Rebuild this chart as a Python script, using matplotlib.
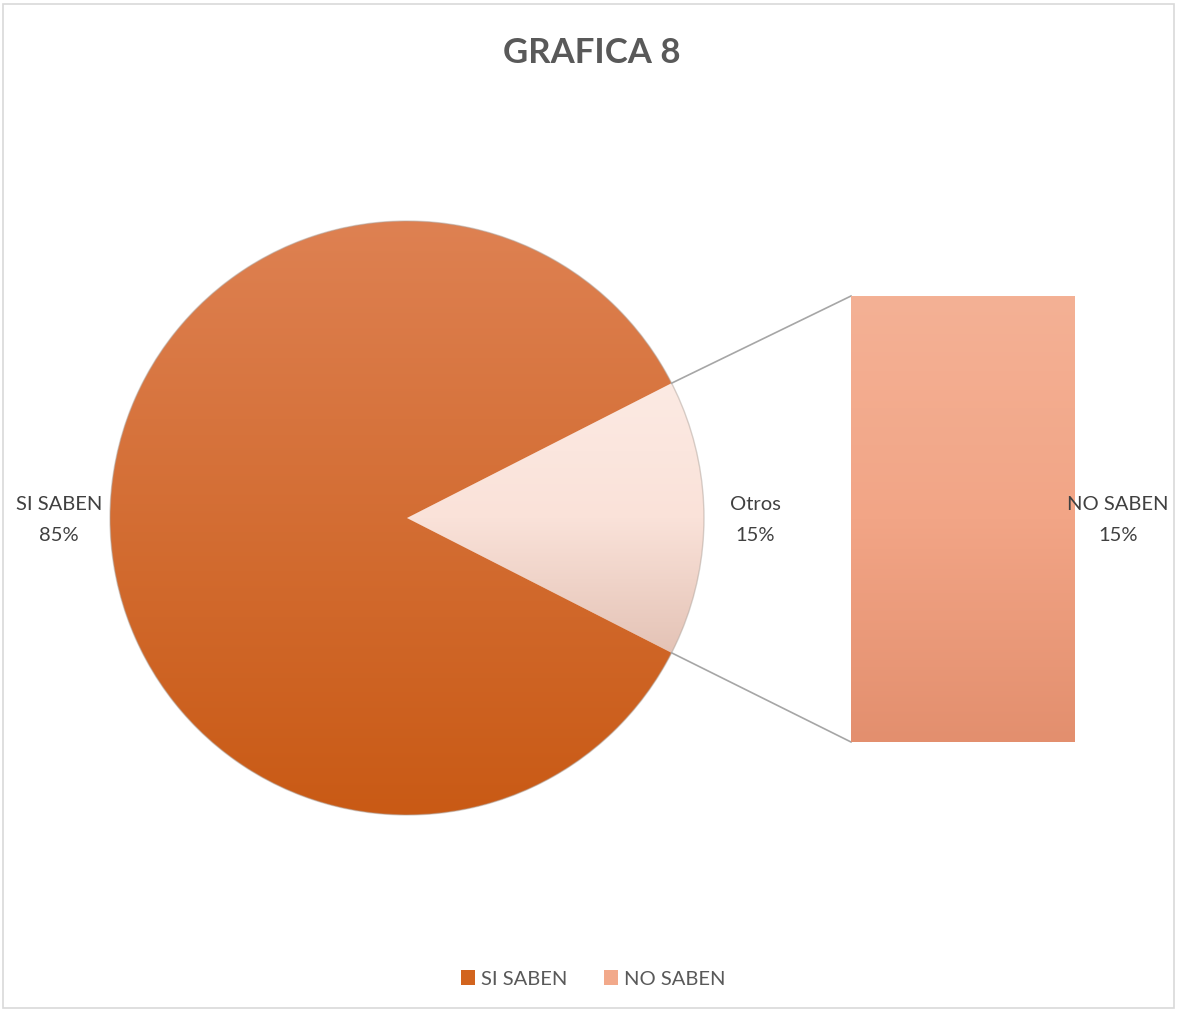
import numpy as np
import matplotlib
matplotlib.use('Agg')
from matplotlib import pyplot as plt
from matplotlib.patches import Patch, Rectangle

# data
title = 'GRAFICA 8'
pie_labels = ['Otros', 'SI SABEN']
pie_vals = [15, 85]
bar_labels = ['NO SABEN']
bar_vals = [15]
legend_labels = ['SI SABEN', 'NO SABEN']

plt.rcParams['font.family'] = ['Lato', 'DejaVu Sans']
W, H = 1177, 1010
fig = plt.figure(figsize=(W / 100., H / 100.), dpi=100)
ax = fig.add_axes([0, 0, 1, 1])

cx, cy, r = 407, 518, 297
half = pie_vals[0] / 100. * 360 / 2
wedges, _ = ax.pie(pie_vals, startangle=-half, center=(cx, cy), radius=r,
                   counterclock=True, wedgeprops=dict(linewidth=0))
ax.set_xlim(0, W)
ax.set_ylim(H, 0)
ax.set_aspect('equal')
ax.axis('off')


def grad(stops, n=256):
    # stops: list of colours spread evenly from top to bottom
    cols = np.array([matplotlib.colors.to_rgb(c) for c in stops])
    t = np.linspace(0, 1, n)
    xs = np.linspace(0, 1, len(cols))
    g = np.stack([np.interp(t, xs, cols[:, k]) for k in range(3)], axis=1)
    return g[:, None, :]


th = np.deg2rad(half)
dy = r * np.sin(th)
# Otros slice gets its own gradient, the big slice spans the whole pie
fills = [(['#FCEAE3', '#FAE2D9', '#E4C3B6'], cy - dy, cy + dy),
         (['#DE8152', '#C95A15'], cy - r, cy + r)]
for w, (stops, ytop, ybot) in zip(wedges, fills):
    w.set_facecolor('none')
    im = ax.imshow(grad(stops), extent=(cx - r, cx + r, ybot, ytop),
                   origin='upper', aspect='auto', zorder=0.5)
    im.set_clip_path(w)
ax.set_xlim(0, W)
ax.set_ylim(H, 0)

# soft edge on the pie
circ = plt.Circle((cx, cy), r, fill=False, ec='#b0a49c', lw=1.0, alpha=0.5, zorder=1)
ax.add_patch(circ)

# bar of the "Otros" slice
bx0, by0, bw, bh = 851, 296, 224, 446
bax = fig.add_axes([bx0 / W, (H - by0 - bh) / H, bw / W, bh / H])
bars = bax.bar([0], bar_vals, width=1, color='none', linewidth=0)
bax.set_xlim(-0.5, 0.5)
bax.set_ylim(0, sum(bar_vals))
bax.axis('off')
im = bax.imshow(grad(['#F4B195', '#F2A586', '#E38F6E']), extent=(-0.5, 0.5, 0, sum(bar_vals)),
                origin='upper', aspect='auto', zorder=0.5)
im.set_clip_path(bars[0])
bax.set_xlim(-0.5, 0.5)
bax.set_ylim(0, sum(bar_vals))

# connector lines
ex = cx + r * np.cos(th)
ax.plot([ex, bx0], [cy - dy, by0], color='#A6A6A6', lw=1.2)
ax.plot([ex, bx0], [cy + dy, by0 + bh], color='#A6A6A6', lw=1.2)

# labels
fs = 14.5
lab = dict(ha='center', va='center', fontsize=fs, color='#404040', linespacing=1.95,
           transform=ax.transData)
fig.text(59, 520, '%s\n%d%%' % (pie_labels[1], pie_vals[1]), **lab)
fig.text(755, 520, '%s\n%d%%' % (pie_labels[0], pie_vals[0]), **lab)
fig.text(1118, 520, '%s\n%d%%' % (bar_labels[0], bar_vals[0]), **lab)

ax.text(W / 2 + 3, 53, title, ha='center', va='center', fontsize=25, fontweight='bold',
        color='#595959')

handles = [Patch(facecolor='#D2641E', edgecolor='none'),
           Patch(facecolor='#F2A98A', edgecolor='none')]
ax.legend(handles, legend_labels, loc='center', bbox_to_anchor=(593 / W, 1 - 979 / H),
          ncol=2, frameon=False, fontsize=14.5, handlelength=0.7, handleheight=0.7,
          handletextpad=0.3, columnspacing=1.8, labelcolor='#595959')

fig.patches.append(Rectangle((3 / W, 2 / H), 1171 / W, 1004 / H, transform=fig.transFigure,
                             fill=False, ec='#D9D9D9', lw=1.2))

fig.savefig('out.png', dpi=100)
